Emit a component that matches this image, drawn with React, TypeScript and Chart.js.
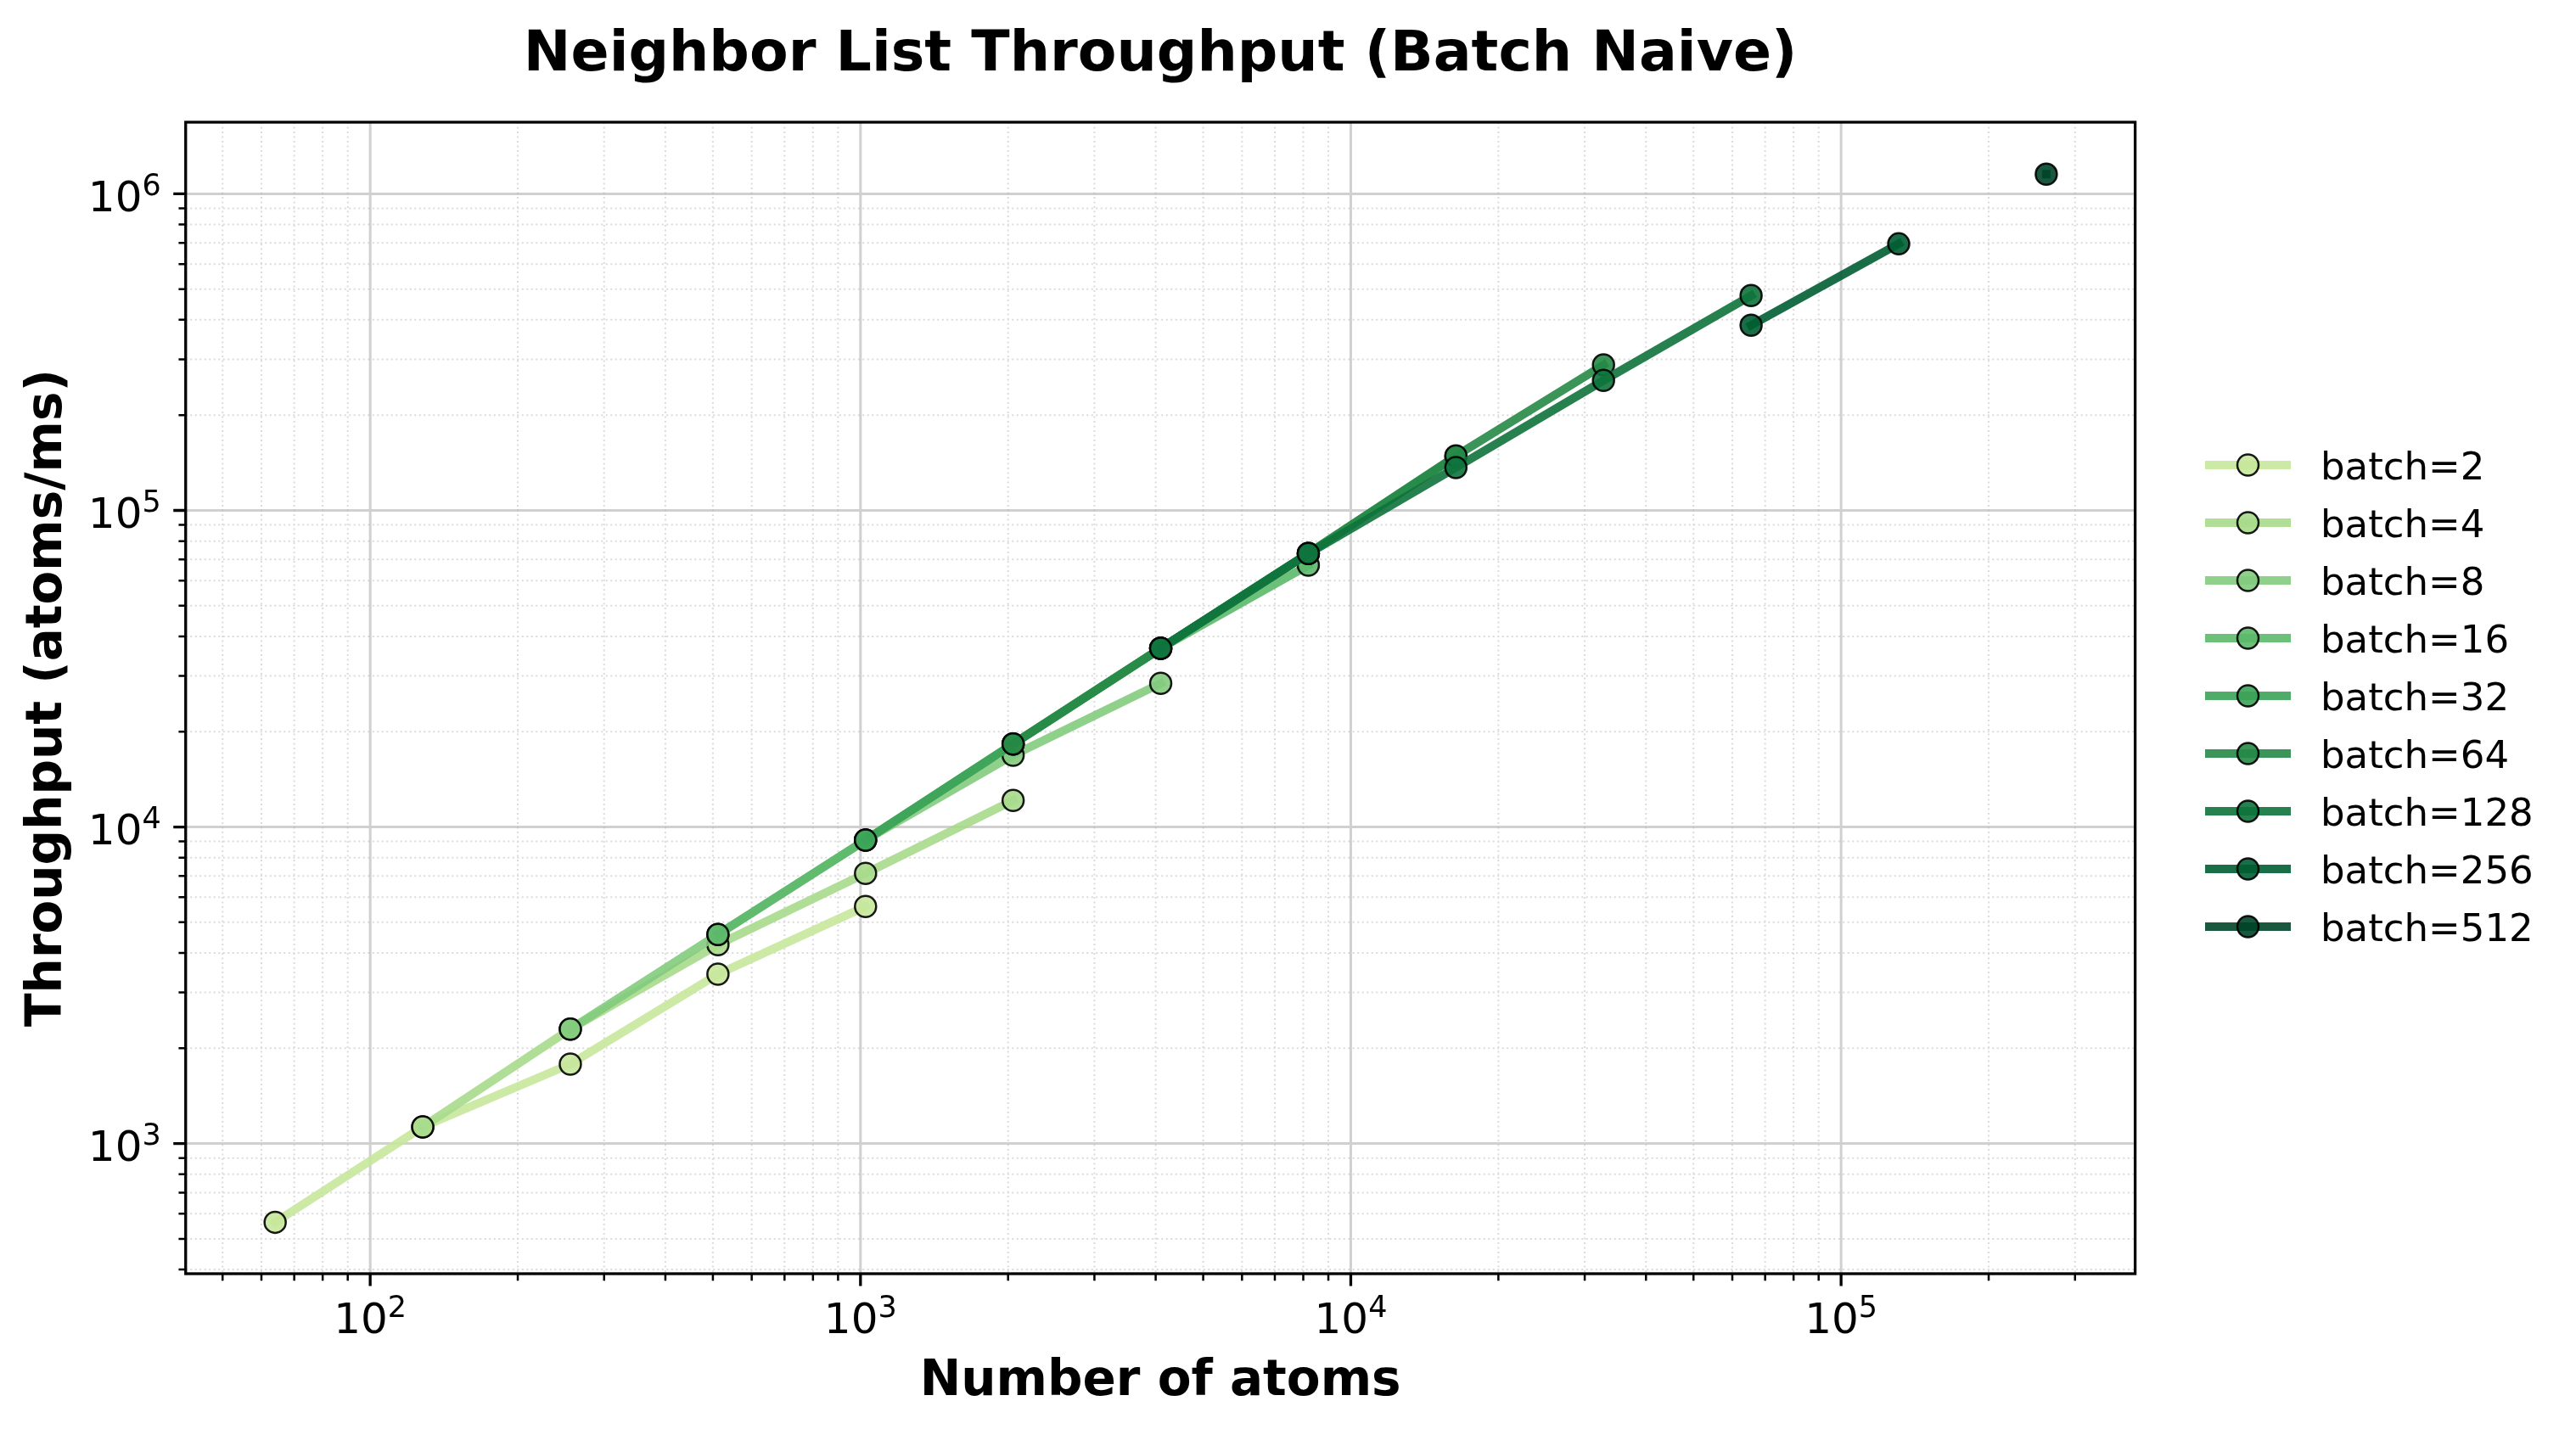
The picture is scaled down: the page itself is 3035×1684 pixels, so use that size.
import React, { useEffect, useRef } from "react";
import { Chart, registerables } from "chart.js";

Chart.register(...registerables);

const W = 3035;
const H = 1684;

const TITLE = "Neighbor List Throughput (Batch Naive)";
const X_LABEL = "Number of atoms";
const Y_LABEL = "Throughput (atoms/ms)";

const SERIES_LABELS = [
  "batch=2",
  "batch=4",
  "batch=8",
  "batch=16",
  "batch=32",
  "batch=64",
  "batch=128",
  "batch=256",
  "batch=512",
];

const ATOMS_B2 = [64, 128, 256, 512, 1024];
const THROUGHPUT_B2 = [564, 1129, 1782, 3428, 5608];
const ATOMS_B4 = [128, 256, 512, 1024, 2048];
const THROUGHPUT_B4 = [1129, 2299, 4246, 7132, 12130];
const ATOMS_B8 = [256, 512, 1024, 2048, 4096];
const THROUGHPUT_B8 = [2299, 4574, 9090, 16850, 28420];
const ATOMS_B16 = [512, 1024, 2048, 4096, 8192];
const THROUGHPUT_B16 = [4574, 9090, 18290, 36670, 67140];
const ATOMS_B32 = [1024, 2048, 4096, 8192, 16384];
const THROUGHPUT_B32 = [9090, 18290, 36670, 73070, 148000];
const ATOMS_B64 = [2048, 4096, 8192, 16384, 32768];
const THROUGHPUT_B64 = [18290, 36670, 73070, 148600, 288100];
const ATOMS_B128 = [4096, 8192, 16384, 32768, 65536];
const THROUGHPUT_B128 = [36670, 73070, 136600, 257300, 477000];
const ATOMS_B256 = [65536, 131072];
const THROUGHPUT_B256 = [384500, 695000];
const ATOMS_B512 = [262144];
const THROUGHPUT_B512 = [1153000];

const SERIES_ATOMS = [ATOMS_B2, ATOMS_B4, ATOMS_B8, ATOMS_B16, ATOMS_B32, ATOMS_B64, ATOMS_B128, ATOMS_B256, ATOMS_B512];
const SERIES_THROUGHPUT = [
  THROUGHPUT_B2,
  THROUGHPUT_B4,
  THROUGHPUT_B8,
  THROUGHPUT_B16,
  THROUGHPUT_B32,
  THROUGHPUT_B64,
  THROUGHPUT_B128,
  THROUGHPUT_B256,
  THROUGHPUT_B512,
];

// YlGn colormap samples
const SERIES_RGB = [
  [199, 232, 155],
  [168, 218, 140],
  [131, 203, 125],
  [92, 185, 107],
  [59, 163, 88],
  [38, 136, 70],
  [14, 115, 60],
  [0, 94, 51],
  [0, 69, 41],
];
const ALPHA = 0.9;

const X_MIN = 42.04;
const X_MAX = 397900;
const Y_MIN = 388;
const Y_MAX = 1683700;
const X_TICK_EXPONENTS = [2, 3, 4, 5];
const Y_TICK_EXPONENTS = [3, 4, 5, 6];

const PLOT_LEFT = 218.75;
const PLOT_RIGHT = 2515.6;
const PLOT_TOP = 144;
const PLOT_BOTTOM = 1501;

const FONT = "'DejaVu Sans', 'Liberation Sans', sans-serif";

function rgba(c: number[], a: number) {
  return `rgba(${c[0]},${c[1]},${c[2]},${a})`;
}

function minorValues(min: number, max: number) {
  const out: number[] = [];
  const e0 = Math.floor(Math.log10(min));
  const e1 = Math.ceil(Math.log10(max));
  for (let e = e0; e <= e1; e++) {
    for (let k = 2; k <= 9; k++) {
      const v = k * Math.pow(10, e);
      if (v >= min && v <= max) out.push(v);
    }
  }
  return out;
}

function drawPow(ctx: CanvasRenderingContext2D, exp: number, x: number, baseline: number, align: "center" | "right") {
  const base = "10";
  const sup = String(exp);
  ctx.font = `50px ${FONT}`;
  const w1 = ctx.measureText(base).width;
  ctx.font = `35px ${FONT}`;
  const w2 = ctx.measureText(sup).width;
  const total = w1 + w2;
  const start = align === "center" ? x - total / 2 : x - total;
  ctx.textAlign = "left";
  ctx.textBaseline = "alphabetic";
  ctx.font = `50px ${FONT}`;
  ctx.fillText(base, start, baseline);
  ctx.font = `35px ${FONT}`;
  ctx.fillText(sup, start + w1, baseline - 18.7);
}

const decorPlugin = {
  id: "decor",
  beforeDatasetsDraw(chart: any) {
    const { ctx, chartArea: a } = chart;
    const xs = chart.scales.x;
    const ys = chart.scales.y;
    ctx.save();
    // minor grid
    ctx.strokeStyle = "rgba(176,176,176,0.45)";
    ctx.lineWidth = 2;
    ctx.setLineDash([2, 3.5]);
    ctx.beginPath();
    for (const v of minorValues(X_MIN, X_MAX)) {
      const p = xs.getPixelForValue(v);
      ctx.moveTo(p, a.top);
      ctx.lineTo(p, a.bottom);
    }
    for (const v of minorValues(Y_MIN, Y_MAX)) {
      const p = ys.getPixelForValue(v);
      ctx.moveTo(a.left, p);
      ctx.lineTo(a.right, p);
    }
    ctx.stroke();
    // major grid
    ctx.setLineDash([]);
    ctx.strokeStyle = "rgba(176,176,176,0.6)";
    ctx.lineWidth = 3;
    ctx.beginPath();
    for (const e of X_TICK_EXPONENTS) {
      const p = xs.getPixelForValue(Math.pow(10, e));
      ctx.moveTo(p, a.top);
      ctx.lineTo(p, a.bottom);
    }
    for (const e of Y_TICK_EXPONENTS) {
      const p = ys.getPixelForValue(Math.pow(10, e));
      ctx.moveTo(a.left, p);
      ctx.lineTo(a.right, p);
    }
    ctx.stroke();
    ctx.restore();
  },
  afterDatasetsDraw(chart: any) {
    const { ctx, chartArea: a } = chart;
    const xs = chart.scales.x;
    const ys = chart.scales.y;
    ctx.save();
    ctx.strokeStyle = "#000";
    // minor ticks
    ctx.lineWidth = 2.5;
    ctx.beginPath();
    for (const v of minorValues(X_MIN, X_MAX)) {
      const p = xs.getPixelForValue(v);
      ctx.moveTo(p, a.bottom);
      ctx.lineTo(p, a.bottom + 8.3);
    }
    for (const v of minorValues(Y_MIN, Y_MAX)) {
      const p = ys.getPixelForValue(v);
      ctx.moveTo(a.left, p);
      ctx.lineTo(a.left - 8.3, p);
    }
    ctx.stroke();
    // major ticks
    ctx.lineWidth = 3.3;
    ctx.beginPath();
    for (const e of X_TICK_EXPONENTS) {
      const p = xs.getPixelForValue(Math.pow(10, e));
      ctx.moveTo(p, a.bottom);
      ctx.lineTo(p, a.bottom + 14.5);
    }
    for (const e of Y_TICK_EXPONENTS) {
      const p = ys.getPixelForValue(Math.pow(10, e));
      ctx.moveTo(a.left, p);
      ctx.lineTo(a.left - 14.5, p);
    }
    ctx.stroke();
    // frame
    ctx.lineWidth = 3.3;
    ctx.strokeRect(a.left, a.top, a.right - a.left, a.bottom - a.top);
    ctx.restore();
  },
  afterDraw(chart: any) {
    const { ctx, chartArea: a } = chart;
    const xs = chart.scales.x;
    const ys = chart.scales.y;
    ctx.save();
    ctx.fillStyle = "#000";
    // tick labels
    for (const e of X_TICK_EXPONENTS) {
      const p = xs.getPixelForValue(Math.pow(10, e));
      drawPow(ctx, e, p, 1570.7, "center");
    }
    for (const e of Y_TICK_EXPONENTS) {
      const p = ys.getPixelForValue(Math.pow(10, e));
      drawPow(ctx, e, a.left - 29, p + 20.5, "right");
    }
    const cx = (a.left + a.right) / 2;
    // title
    ctx.textAlign = "center";
    ctx.textBaseline = "alphabetic";
    ctx.font = `bold 66.5px ${FONT}`;
    ctx.fillText(TITLE, cx, 83);
    // x label
    ctx.font = `bold 58px ${FONT}`;
    ctx.fillText(X_LABEL, cx, 1644);
    // y label
    ctx.save();
    ctx.translate(72, (a.top + a.bottom) / 2);
    ctx.rotate(-Math.PI / 2);
    ctx.fillText(Y_LABEL, 0, 0);
    ctx.restore();
    // legend
    const rowY0 = 548;
    const rowGap = 68;
    for (let i = 0; i < SERIES_LABELS.length; i++) {
      const y = rowY0 + rowGap * i;
      const col = SERIES_RGB[i];
      ctx.strokeStyle = rgba(col, ALPHA);
      ctx.lineWidth = 10;
      ctx.lineCap = "butt";
      ctx.beginPath();
      ctx.moveTo(2598, y);
      ctx.lineTo(2699, y);
      ctx.stroke();
      ctx.beginPath();
      ctx.arc(2648.5, y, 12.5, 0, Math.PI * 2);
      ctx.fillStyle = rgba(col, ALPHA);
      ctx.fill();
      ctx.lineWidth = 2.5;
      ctx.strokeStyle = "rgba(0,0,0,0.9)";
      ctx.stroke();
      ctx.fillStyle = "#000";
      ctx.font = `45px ${FONT}`;
      ctx.textAlign = "left";
      ctx.textBaseline = "alphabetic";
      ctx.fillText(SERIES_LABELS[i], 2734, y + 17);
    }
    ctx.restore();
  },
};

export default function App() {
  const canvasRef = useRef<HTMLCanvasElement | null>(null);

  useEffect(() => {
    const canvas = canvasRef.current;
    if (!canvas) return;
    const datasets = SERIES_LABELS.map((label, i) => {
      const col = SERIES_RGB[i];
      return {
        label,
        data: SERIES_ATOMS[i].map((x, j) => ({ x, y: SERIES_THROUGHPUT[i][j] })),
        borderColor: rgba(col, ALPHA),
        backgroundColor: rgba(col, ALPHA),
        borderWidth: 10,
        borderCapStyle: "square" as const,
        borderJoinStyle: "round" as const,
        pointRadius: 12.5,
        pointHoverRadius: 12.5,
        pointBackgroundColor: rgba(col, ALPHA),
        pointBorderColor: "rgba(0,0,0,0.9)",
        pointBorderWidth: 2.5,
        fill: false,
        tension: 0,
        order: SERIES_LABELS.length - i,
      };
    });
    const chart = new Chart(canvas, {
      type: "line",
      data: { datasets },
      options: {
        responsive: false,
        maintainAspectRatio: false,
        devicePixelRatio: 1,
        animation: false,
        events: [],
        layout: {
          padding: {
            left: PLOT_LEFT,
            top: PLOT_TOP,
            right: W - PLOT_RIGHT,
            bottom: H - PLOT_BOTTOM,
          },
        },
        plugins: {
          legend: { display: false },
          tooltip: { enabled: false },
          title: { display: false },
        },
        scales: {
          x: { type: "logarithmic", min: X_MIN, max: X_MAX, bounds: "data", display: false },
          y: { type: "logarithmic", min: Y_MIN, max: Y_MAX, bounds: "data", display: false },
        },
      },
      plugins: [decorPlugin],
    } as any);
    return () => chart.destroy();
  }, []);

  return (
    <div style={{ position: "fixed", left: 0, top: 0, width: W, height: H, background: "#fff" }}>
      <canvas ref={canvasRef} width={W} height={H} style={{ display: "block", width: W, height: H }} />
    </div>
  );
}
